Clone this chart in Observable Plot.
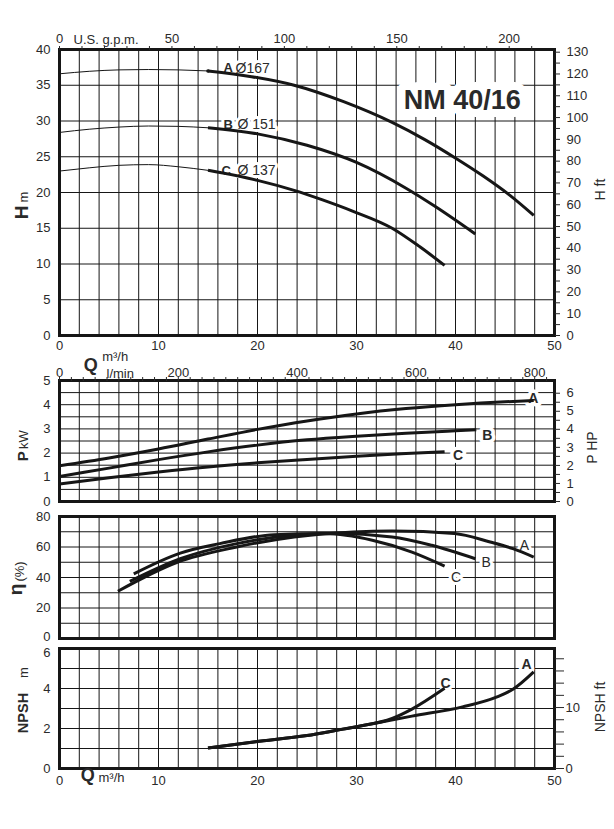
<!DOCTYPE html>
<html><head><meta charset="utf-8">
<script src="https://cdn.jsdelivr.net/npm/d3@7"></script>
<script src="https://cdn.jsdelivr.net/npm/@observablehq/plot@0.6"></script>
<style>
html,body{margin:0;padding:0;background:#fff;}
#chart{position:relative;width:614px;height:829px;overflow:hidden;}
#chart svg{position:absolute;left:0;top:0;}
</style></head><body><div id="chart"></div>
<script>
// ---------- unit conversions ----------
const GPM_PER_M3H = 4.40287;
const LPM_PER_M3H = 16.6667;
const FT_PER_M = 3.28084;
const KW_PER_HP = 0.7457;

// ---------- tick labels ----------
const qLabels = [0, 10, 20, 30, 40, 50];
const gpmLabels = [0, 50, 100, 150, 200];
const lpmLabels = [0, 200, 400, 600, 800];
const headLabels = [0, 5, 10, 15, 20, 25, 30, 35, 40];
const headFtLabels = [0, 10, 20, 30, 40, 50, 60, 70, 80, 90, 100, 110, 120, 130];
const powerLabels = [0, 1, 2, 3, 4, 5];
const hpLabels = [0, 1, 2, 3, 4, 5, 6];
const effLabels = [0, 20, 40, 60, 80];
const npshLabels = [0, 2, 4, 6];
const npshFtLabels = [0, 10];

// ---------- curve labels ----------
const pumps = ["A", "B", "C"];
const diameters = ["Ø167", "Ø 151", "Ø 137"];
const title = "NM 40/16";

// ---------- series: [Q m3/h, value] ----------
const headA = [[0,36.6],[3,36.95],[6,37.15],[9,37.2],[12,37.15],[15,37.0],[19.4,36.2],[23.7,35.0],[28.7,32.7],[33.6,29.8],[36.9,27.4],[39.9,24.9],[42.8,22.3],[45.5,19.6],[47.9,16.8]];
const headB = [[0,28.4],[3,28.85],[6,29.15],[9,29.3],[12,29.25],[15,29.05],[20,28.2],[25,26.6],[30,24.2],[35,20.6],[38,18.0],[42,14.2]];
const headC = [[0,23.0],[3,23.45],[6,23.8],[9,23.9],[12,23.6],[15,23.1],[20,21.7],[23.7,20.3],[26.5,19.0],[29.6,17.4],[33.6,15.0],[36.4,12.4],[38.9,9.8]];

const powerA = [[0,1.48],[5,1.8],[10,2.17],[15,2.58],[20,2.98],[25,3.33],[30,3.62],[35,3.84],[40,4.0],[45,4.12],[47.9,4.17]];
const powerB = [[0,1.03],[5,1.38],[10,1.73],[15,2.05],[20,2.33],[25,2.55],[30,2.7],[35,2.82],[40,2.92],[42.1,2.96]];
const powerC = [[0,0.72],[5,0.98],[10,1.22],[15,1.43],[20,1.6],[25,1.74],[30,1.87],[35,1.98],[38.9,2.06]];

const effA = [[5.9,31],[11.9,50],[17.9,60],[23.7,66.6],[29.7,69.9],[33.6,70.5],[39.9,68.9],[43.5,63.3],[45.8,58.9],[47.9,53.4]];
const effB = [[7.1,37.4],[12.2,52.3],[17.9,62.2],[23.7,67.7],[27.7,68.8],[33.6,66.6],[37.6,61.1],[42.0,52.3]];
const effC = [[7.5,42.4],[12.2,56],[16.2,62.2],[21.7,68.1],[26.9,68.8],[31.6,64.4],[35.6,56.7],[38.9,47.5]];

const npshA = [[15,1.03],[19.8,1.34],[25,1.65],[28.1,1.92],[30,2.09],[35.6,2.62],[40.7,3.08],[44.2,3.58],[45.8,3.96],[47.9,4.83]];
const npshC = [[15,1.03],[19.8,1.34],[25,1.65],[28.1,1.92],[30,2.09],[33.6,2.5],[35.6,2.97],[38.9,4.01]];

// ---------- helpers ----------
const W = 614, H = 829;
const FONT = "'Liberation Sans', Arial, Helvetica, sans-serif";
const INK = "#161616", TXT = "#2a2a2a";
const rows = (pump, pts) => pts.map(([q, v]) => ({pump, q, v}));
const THIN_END = 15;

function note(t, o) {
  return Plot.text([t], {
    text: d => d, frameAnchor: o.at, dx: o.dx, dy: o.dy,
    fontSize: o.size ?? 13, fontWeight: o.bold ? "bold" : "normal",
    rotate: o.rotate ?? 0, textAnchor: o.anchor ?? "middle",
    fill: TXT, fontFamily: FONT,
    stroke: o.halo ? "white" : undefined, strokeWidth: o.halo,
    paintOrder: "stroke", strokeLinejoin: "round"
  });
}
const qGrid = d3.range(0, 51, 2);
const grid = (yLines) => [
  Plot.ruleX(qGrid, {stroke: INK, strokeWidth: 1}),
  Plot.ruleY(yLines, {stroke: INK, strokeWidth: 1})
];
const leftAxis = (ticks, dy = 0) => Plot.axisY({anchor: "left", ticks, tickFormat: d => String(d), tickSize: 0, tickPadding: 9, dy, label: null, fontSize: 13, fill: TXT});
const curve = (data, sw) => Plot.line(data, {x: "q", y: "v", z: "pump", curve: "monotone-x", stroke: INK, strokeWidth: sw, strokeLinecap: "butt"});

function panel(top, bottom, yDomain, marks, xAxis = true) {
  return Plot.plot({
    width: W, height: H,
    marginLeft: 59, marginRight: 60, marginTop: top, marginBottom: H - bottom,
    x: xAxis ? {domain: [0, 50]} : {domain: [0, 50], axis: null},
    y: {domain: yDomain, axis: null},
    style: {fontFamily: FONT, fontSize: "13px", color: TXT, background: "transparent", overflow: "visible"},
    marks
  });
}

// ---------- Head panel ----------
const headRows = [...rows("A", headA), ...rows("B", headB), ...rows("C", headC)];
const headPlot = panel(49, 335, [0, 40], [
  ...grid(headLabels),
  note(title, {at: "top-left", dx: 402.7, dy: 40.4, size: 27, bold: true, halo: 16}),
  ...pumps.map((p, i) => note(p, {at: "top-left", dx: [164, 164, 162][i], dy: [13.3, 69.8, 115.8][i], size: 13, bold: true, anchor: "start", halo: 6})),
  ...diameters.map((d, i) => note(d, {at: "top-left", dx: [176, 178, 178][i], dy: [13.5, 69.8, 115.8][i], size: 14, anchor: "start", halo: 6})),
  curve(headRows.filter(d => d.q <= THIN_END), 1),
  curve(headRows.filter(d => d.q >= THIN_END), 3),
  Plot.dot(rows("A", headA).filter(d => d.q === THIN_END), {x: "q", y: "v", r: 1.8, fill: INK}),
  Plot.frame({stroke: INK, strokeWidth: 3}),
  leftAxis(headLabels),
  Plot.axisX({anchor: "bottom", ticks: qLabels, tickFormat: d => String(d), tickSize: 0, tickPadding: 5, label: null, fontSize: 13, fill: TXT}),
  Plot.axisX({anchor: "top", ticks: d3.range(0, 220, 10).map(g => g / GPM_PER_M3H), tickSize: 4, tickFormat: () => "", label: null}),
  Plot.axisX({anchor: "top", ticks: gpmLabels.map(g => g / GPM_PER_M3H), tickFormat: d => Math.round(d * GPM_PER_M3H), tickSize: 0, tickPadding: 7, label: null, fontSize: 13, fill: TXT}),
  Plot.axisY({anchor: "right", ticks: d3.range(0, 131, 5).map(f => f / FT_PER_M), tickSize: 5, tickFormat: () => "", label: null}),
  Plot.axisY({anchor: "right", ticks: headFtLabels.map(f => f / FT_PER_M), tickFormat: d => Math.round(d * FT_PER_M), tickSize: 0, tickPadding: 12, label: null, fontSize: 13, fill: TXT}),
  note("U.S. g.p.m.", {at: "top-left", dx: 14, dy: -15, size: 13, anchor: "start"}),
  note("H", {at: "left", dx: -37.8, dy: 20, size: 19, bold: true, rotate: -90}),
  note("m", {at: "left", dx: -35.9, dy: 4.5, size: 13, rotate: -90}),
  note("H ft", {at: "right", dx: 46.5, dy: -3, size: 14, rotate: -90})
]);

// ---------- Power panel ----------
const powerRows = [...rows("A", powerA), ...rows("B", powerB), ...rows("C", powerC)];
const powerPlot = panel(380, 501, [0, 5], [
  ...grid(d3.range(0, 5.01, 0.5)),
  ...pumps.map((p, i) => note(p, {at: "top-left", dx: [473.7, 427.9, 398.5][i], dy: [12.2, 49.5, 69.8][i], size: 14, bold: true, halo: 7})),
  curve(powerRows, 3),
  Plot.frame({stroke: INK, strokeWidth: 3}),
  leftAxis(powerLabels),
  Plot.axisX({anchor: "top", ticks: d3.range(0, 840, 20).map(l => l / LPM_PER_M3H), tickSize: 4, tickFormat: () => "", label: null}),
  Plot.axisX({anchor: "top", ticks: lpmLabels.map(l => l / LPM_PER_M3H), tickFormat: d => Math.round(d * LPM_PER_M3H), tickSize: 0, tickPadding: 4, label: null, fontSize: 13, fill: TXT}),
  Plot.axisY({anchor: "right", ticks: d3.range(0, 6.01, 0.5).map(h => h * KW_PER_HP), tickSize: 5, tickFormat: () => "", label: null}),
  Plot.axisY({anchor: "right", ticks: hpLabels.map(h => h * KW_PER_HP), tickFormat: d => Math.round(d / KW_PER_HP), tickSize: 0, tickPadding: 12, label: null, fontSize: 13, fill: TXT}),
  note("Q", {at: "top-left", dx: 31.3, dy: -22.6, size: 18, bold: true}),
  note("m³/h", {at: "top-left", dx: 42.7, dy: -28.5, size: 13, anchor: "start"}),
  note("l/min", {at: "top-left", dx: 47, dy: -11.5, size: 13, anchor: "start"}),
  note("P", {at: "left", dx: -35.9, dy: 15.3, size: 15, bold: true, rotate: -90}),
  note("kW", {at: "left", dx: -35.3, dy: -1.5, size: 13, rotate: -90}),
  note("P HP", {at: "right", dx: 38, dy: 6.5, size: 14, rotate: -90})
]);

// ---------- Efficiency panel ----------
const effRows = [...rows("A", effA), ...rows("B", effB), ...rows("C", effC)];
const effPlot = panel(516, 638, [0, 80], [
  ...grid(d3.range(0, 81, 10)),
  ...pumps.map((p, i) => note(p, {at: "top-left", dx: [465, 426.7, 396.5][i], dy: [23.5, 40.5, 55.2][i], size: 14, halo: 6})),
  curve(effRows, 3),
  Plot.frame({stroke: INK, strokeWidth: 3}),
  leftAxis(effLabels.filter(v => v > 0)),
  leftAxis([0], -2),
  note("η", {at: "left", dx: -43.5, dy: 12, size: 19, bold: true, rotate: -90}),
  note("(%)", {at: "left", dx: -39.8, dy: -6, size: 13, rotate: -90})
], false);

// ---------- NPSH panel ----------
const npshRows = [...rows("A", npshA), ...rows("C", npshC)];
const npshPlot = panel(648, 768, [0, 6], [
  ...grid(d3.range(0, 6.01, 1)),
  note("C", {at: "top-left", dx: 386, dy: 29.8, size: 14, bold: true, halo: 6}),
  note("A", {at: "top-left", dx: 467, dy: 10.8, size: 14, bold: true, halo: 6}),
  curve(npshRows, 3),
  Plot.frame({stroke: INK, strokeWidth: 3}),
  leftAxis(npshLabels.filter(v => v < 6)),
  leftAxis([6], 4),
  Plot.axisX({anchor: "bottom", ticks: qLabels, tickFormat: d => String(d), tickSize: 0, tickPadding: 7, label: null, fontSize: 13, fill: TXT}),
  Plot.axisY({anchor: "right", ticks: d3.range(0, 19, 2).map(f => f / FT_PER_M), tickSize: 9, tickFormat: () => "", label: null}),
  Plot.axisY({anchor: "right", ticks: npshFtLabels.map(f => f / FT_PER_M), tickFormat: d => Math.round(d * FT_PER_M), tickSize: 0, tickPadding: 11, label: null, fontSize: 13, fill: TXT}),
  note("Q", {at: "bottom-left", dx: 28.2, dy: 12.7, size: 18, bold: true}),
  note("m³/h", {at: "bottom-left", dx: 39, dy: 13.5, size: 13, anchor: "start"}),
  note("NPSH", {at: "left", dx: -36.4, dy: 4.5, size: 14.5, bold: true, rotate: -90}),
  note("m", {at: "left", dx: -36, dy: -36, size: 13, rotate: -90}),
  note("NPSH ft", {at: "right", dx: 46.5, dy: -1.5, size: 14, rotate: -90})
]);

const chart = document.getElementById("chart");
[headPlot, powerPlot, effPlot, npshPlot].forEach(p => chart.appendChild(p));
</script>
</body></html>
